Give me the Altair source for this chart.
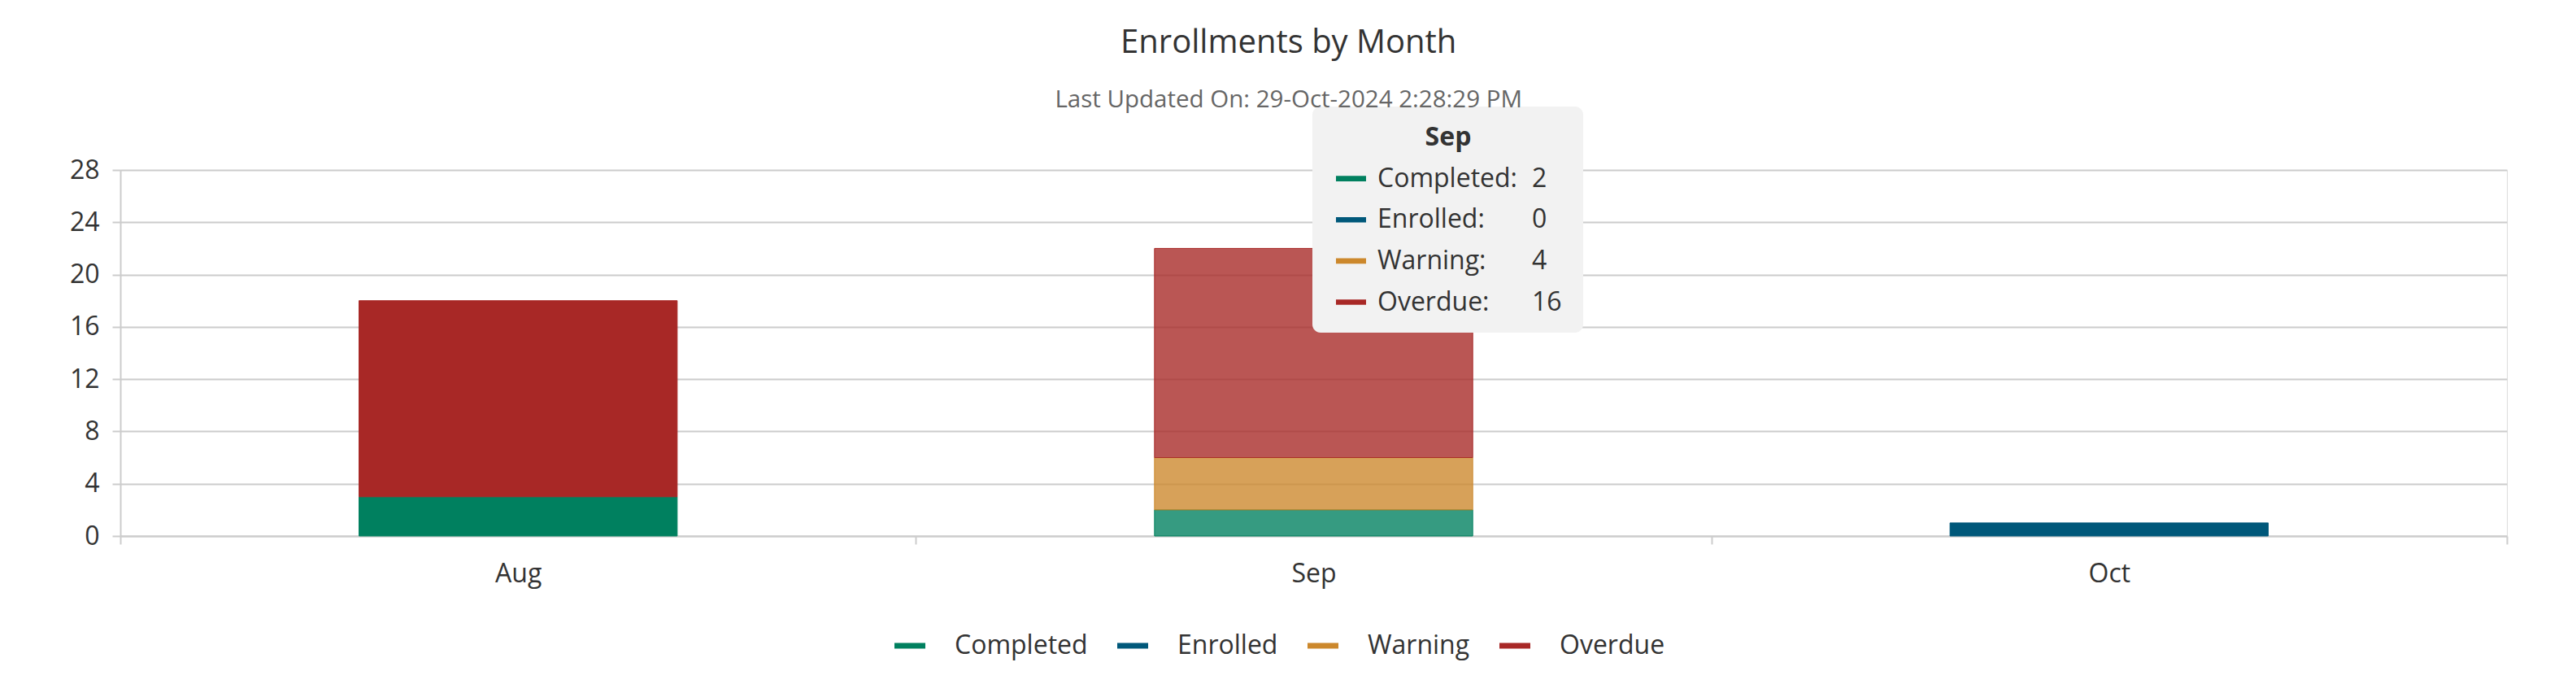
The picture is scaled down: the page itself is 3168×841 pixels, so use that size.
import altair as alt
import pandas as pd

# ---- data ----
months = ["Aug", "Sep", "Oct"]
series = ["Completed", "Enrolled", "Warning", "Overdue"]
completed = [3, 2, 0]
enrolled = [0, 0, 1]
warning = [0, 4, 0]
overdue = [15, 16, 0]
colors = ["#00805F", "#00587A", "#CC882C", "#A82826"]
y_ticks = [0, 4, 8, 12, 16, 20, 24, 28]
hover_month = "Sep"
title_text = "Enrollments by Month"
subtitle_text = "Last Updated On: 29-Oct-2024 2:28:29 PM"

FONT = "Open Sans"
TXT = "#333333"
GRID = "#CCCCCC"
LINE_PATH = "M-1,-0.18H1V0.18H-1Z"

values_by_series = [completed, enrolled, warning, overdue]
rows = []
for i, (s, vals) in enumerate(zip(series, values_by_series)):
    for m, v in zip(months, vals):
        rows.append({"month": m, "series": s, "value": v, "order": i, "hex": colors[i]})
df = pd.DataFrame(rows)

ti = months.index(hover_month)
tip = pd.DataFrame({
    "month": [hover_month] * len(series),
    "label": [s + ":" for s in series],
    "value": [vals[ti] for vals in values_by_series],
    "hex": colors,
    "row": list(range(1, len(series) + 1)),
})
tip_head = pd.DataFrame({"month": [hover_month], "row": [0]})
tip_box = pd.DataFrame({"month": [hover_month], "top": [-0.75], "bottom": [4.74]})

color_scale = alt.Scale(domain=series, range=colors)
ty = alt.Scale(domain=[0, 4], range=[-40, 162.5])

x_enc = alt.X(
    "month:N", sort=months, title=None,
    scale=alt.Scale(domain=months, paddingInner=0, paddingOuter=0),
    axis=alt.Axis(labelAngle=0, labelFont=FONT, labelFontSize=32, labelColor=TXT,
                  labelPadding=21, tickBand="extent", tickSize=10, tickColor=GRID,
                  tickWidth=2, domainColor=GRID, domainWidth=2, grid=False),
)

bars = alt.Chart(df).transform_filter("datum.value > 0").mark_bar(
    width=alt.RelativeBandSize(0.4), strokeWidth=1
).encode(
    x=x_enc,
    y=alt.Y("value:Q", stack="zero", title=None,
            scale=alt.Scale(domain=[0, 28], nice=False),
            axis=alt.Axis(values=y_ticks, labelFont=FONT, labelFontSize=32, labelColor=TXT,
                          labelPadding=16, tickSize=10, tickColor=GRID, tickWidth=2,
                          domainColor=GRID, domainWidth=2, gridColor=GRID, gridWidth=2)),
    color=alt.Color("series:N", scale=color_scale, sort=series,
                    legend=alt.Legend(title=None, orient="none", legendX=952, legendY=566,
                                      direction="horizontal", symbolType=LINE_PATH,
                                      symbolSize=1444, symbolStrokeWidth=0,
                                      labelFont=FONT, labelFontSize=32, labelColor=TXT,
                                      labelOffset=36, columnPadding=36, padding=0,
                                      labelLimit=600, symbolOpacity=1)),
    stroke=alt.Stroke("hex:N", scale=None),
    order=alt.Order("order:Q"),
    fillOpacity=alt.condition(f"datum.month == '{hover_month}'", alt.value(0.79), alt.value(1.0)),
)

box = alt.Chart(tip_box).mark_bar(width=333, xOffset=165, cornerRadius=10, color="#F2F2F2").encode(
    x=alt.X("month:N", sort=months),
    y=alt.Y("top:Q", scale=ty, axis=None),
    y2="bottom:Q",
)

tip_base = alt.Chart(tip).encode(
    x=alt.X("month:N", sort=months),
    y=alt.Y("row:Q", scale=ty, axis=None),
)
sym = tip_base.mark_point(shape=LINE_PATH, size=37 ** 2, filled=True, opacity=1, xOffset=46, strokeWidth=0).encode(
    color=alt.Color("hex:N", scale=None)
)
labels = tip_base.mark_text(align="left", baseline="middle", dx=78.5, font=FONT, fontSize=32, color=TXT).encode(
    text="label:N"
)
vals = tip_base.mark_text(align="left", baseline="middle", dx=268.5, font=FONT, fontSize=32, color=TXT).encode(
    text="value:Q"
)
header = alt.Chart(tip_head).mark_text(align="center", baseline="middle", dx=165.5, font=FONT,
                                       fontSize=32, fontWeight="bold", color=TXT).encode(
    x=alt.X("month:N", sort=months),
    y=alt.Y("row:Q", scale=ty, axis=None),
    text="month:N",
)

chart = alt.layer(bars, box, sym, labels, vals, header).resolve_scale(
    y="independent"
).properties(
    width=2935, height=450,
    autosize=alt.AutoSizeParams(type="none"),
    padding={"left": 140, "top": 201, "right": 77, "bottom": 174},
    title=alt.TitleParams(text=title_text, subtitle=subtitle_text, font=FONT, fontSize=40,
                          fontWeight="normal", color=TXT, subtitleFont=FONT, subtitleFontSize=29.5,
                          subtitleColor="#666666", subtitlePadding=36, anchor="middle",
                          frame="bounds", offset=-6),
).configure_view(stroke=None).configure(background="white")

chart.save("out.html", embed_options={"renderer": "svg", "actions": False})
